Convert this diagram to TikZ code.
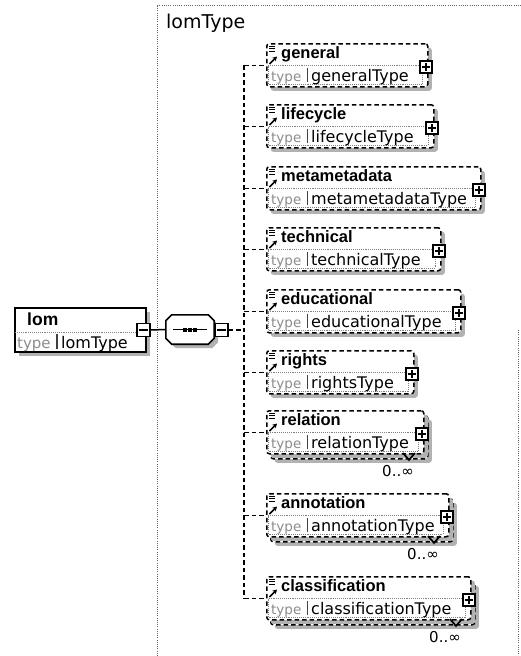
\documentclass[tikz,border=0pt]{standalone}
\usepackage{fontspec}
\setmainfont{DejaVu Sans}
\newfontfamily\nmfont{Liberation Sans}
\usetikzlibrary{shadows,arrows.meta}
\tikzset{
  shd/.style={drop shadow={shadow xshift=4pt, shadow yshift=-4pt, fill=black!30, opacity=1}},
  ebox/.style={draw, dash pattern=on 4.5pt off 3pt, line width=1.5pt, fill=white,
    rounded corners=2.5pt, anchor=north west, minimum height=43pt, inner sep=0pt, shd},
  nm/.style={font=\nmfont\bfseries\fontsize{16.5}{19}\selectfont, inner sep=0pt, anchor=base west},
  tp/.style={font=\fontsize{13.5}{15}\selectfont, text=black!45, inner sep=0pt, anchor=base west},
  tn/.style={font=\fontsize{16}{18}\selectfont, inner sep=0pt, anchor=base west},
  pbox/.style={draw, fill=white, line width=1.4pt, minimum size=12pt, inner sep=0pt},
  conn/.style={line width=1.5pt, dash pattern=on 4.5pt off 3pt},
  frame/.style={line width=1pt, black!60, dash pattern=on 1pt off 1.2pt},
  mult/.style={font=\fontsize{15}{17}\selectfont, inner sep=0pt},
  icon/.style={line width=1pt},
}
\newcommand\plusin[1]{%
  \draw[line width=1.4pt] ([xshift=2.5pt]#1.west) -- ([xshift=-2.5pt]#1.east);
  \draw[line width=1.4pt] ([yshift=-2.5pt]#1.north) -- ([yshift=2.5pt]#1.south);}
\newcommand\elem[6]{% id, top, right, name, type, repeated
  \ifnum#6=1
    \node[ebox, minimum width={#3pt-266pt}] (#1b) at (270,#2+5) {};
  \fi
  \node[ebox, minimum width={#3pt-266pt}] (#1) at (266,#2) {};
  \draw[icon] (269,#2+3) -- (275,#2+3) (269,#2+5.5) -- (275,#2+5.5) (269,#2+8) -- (275,#2+8);
  \draw[line width=1.7pt, -{Stealth[length=4.5pt,width=5pt]}] (269.5,#2+21) -- (277,#2+13.5);
  \node[nm] (#1-n) at (281,#2+15.5) {#4};
  \draw[black!50, densely dotted, line width=0.9pt] (268,#2+22.5) rectangle (#3-5,#2+41);
  \node[tp] (#1-k) at (271,#2+38) {type};
  \draw[black!75, line width=1.2pt] (307.5,#2+25) -- (307.5,#2+39);
  \node[tn] (#1-t) at (311,#2+38.5) {#5};
  \node[pbox] (#1-p) at (#3-1,#2+24) {};
  \plusin{#1-p}
  \ifnum#6=1
    \draw[line width=1.7pt] (#3-20,#2+43) -- (#3-14,#2+50) -- (#3-8,#2+43);
    \node[mult] (#1-m) at (#3-25,#2+61) {0..∞};
  \fi
}
\begin{document}
\begin{tikzpicture}[x=1pt,y=-1pt]
\useasboundingbox[fill=white] (0,0) rectangle (521,656);
% frame of the complex type
\draw[frame] (157,656) -- (157,5) -- (521,5);
\draw[frame] (518.5,330) -- (518.5,656);
\node[font=\fontsize{19}{21}\selectfont, inner sep=0pt, anchor=base west] (title) at (166,28) {lomType};
% lom element
\node[draw, line width=1.6pt, fill=white, anchor=north west, minimum width=131pt,
      minimum height=44pt, inner sep=0pt, shd] (lom) at (14,307) {};
\draw[black!50, densely dotted, line width=0.9pt] (15,332) -- (137,332);
\node[font=\nmfont\bfseries\fontsize{17.5}{20}\selectfont, inner sep=0pt, anchor=base west] (lom-n) at (27,325) {lom};
\node[font=\fontsize{15}{16}\selectfont, text=black!45, inner sep=0pt, anchor=base west] (lom-k) at (17,348) {type};
\draw[black!75, line width=1.2pt] (57,334) -- (57,349);
\node[font=\fontsize{16}{18}\selectfont, inner sep=0pt, anchor=base west] (lom-t) at (61,348) {lomType};
\node[pbox, minimum size=13pt] (lomm) at (143.5,330) {};
\draw[line width=1.4pt] ([xshift=2.5pt]lomm.west) -- ([xshift=-2.5pt]lomm.east);
% sequence compositor
\node[minimum width=48pt, minimum height=29pt, inner sep=0pt] (seq) at (190,329.5) {};
\fill[black!30] ([xshift=10pt,yshift=-4pt]seq.north west) -- ([xshift=-2pt,yshift=-4pt]seq.north east)
  -- ([xshift=4pt,yshift=-10pt]seq.north east) -- ([xshift=4pt,yshift=2pt]seq.south east)
  -- ([xshift=-2pt,yshift=-4pt]seq.south east) -- ([xshift=10pt,yshift=-4pt]seq.south west)
  -- ([xshift=4pt,yshift=2pt]seq.south west) -- ([xshift=4pt,yshift=-10pt]seq.north west) -- cycle;
\draw[line width=1.6pt, fill=white] ([xshift=6pt]seq.north west) -- ([xshift=-6pt]seq.north east)
  -- ([yshift=-6pt]seq.north east) -- ([yshift=6pt]seq.south east)
  -- ([xshift=-6pt]seq.south east) -- ([xshift=6pt]seq.south west)
  -- ([yshift=6pt]seq.south west) -- ([yshift=-6pt]seq.north west) -- cycle;
\draw[line width=1.4pt] ([xshift=-17pt]seq.center) -- ([xshift=17pt]seq.center);
\foreach \d in {-5,0,5}
  \fill ([xshift=\d pt-2pt,yshift=-2pt]seq.center) rectangle ([xshift=\d pt+2pt,yshift=2pt]seq.center);
\node[pbox, minimum size=13pt] (seqm) at (221.5,330) {};
\draw[line width=1.4pt] ([xshift=2.5pt]seqm.west) -- ([xshift=-2.5pt]seqm.east);
\draw[line width=1.5pt] (lomm.east) -- (seq.west);
\coordinate (bus) at (244,330);
\draw[conn] (seqm.east) -- (bus);
% child elements
\elem{general}{43}{427}{general}{generalType}{0}
\elem{lifecycle}{104}{433}{lifecycle}{lifecycleType}{0}
\elem{metametadata}{166}{480}{metametadata}{metametadataType}{0}
\elem{technical}{227}{440}{technical}{technicalType}{0}
\elem{educational}{289}{460}{educational}{educationalType}{0}
\elem{rights}{350}{413}{rights}{rightsType}{0}
\elem{relation}{410}{423}{relation}{relationType}{1}
\elem{annotation}{493}{448}{annotation}{annotationType}{1}
\elem{classification}{576}{470}{classification}{classificationType}{1}
% connectors
\draw[conn] (bus |- general.west) -- (bus |- classification.west);
\foreach \e in {general,lifecycle,metametadata,technical,educational,rights,relation,annotation,classification}
  \draw[conn] (bus |- \e.west) -- (\e.west);
\end{tikzpicture}
\end{document}
